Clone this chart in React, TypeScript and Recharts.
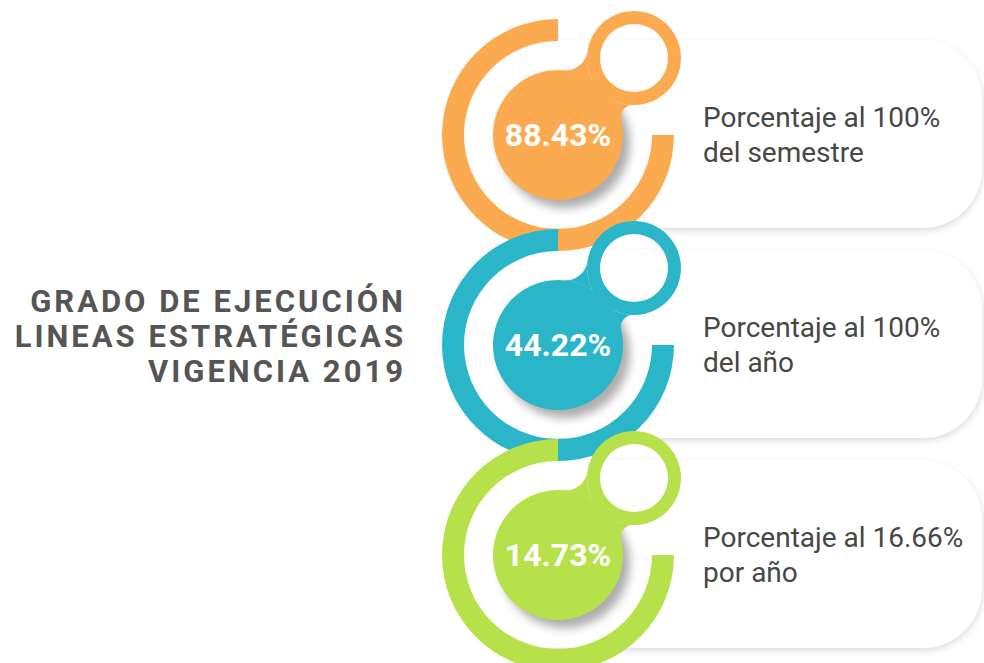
import React from 'react';
import { PieChart, Pie, Cell } from 'recharts';

const W = 984;
const H = 663;
const FONT = 'Roboto, "DejaVu Sans", sans-serif';

// ---- data ----
const indicators = ['Semestre', 'Año', 'Anual'];
const values = [88.43, 44.22, 14.73];
const valueLabels = ['88.43%', '44.22%', '14.73%'];
const descLine1 = ['Porcentaje al 100%', 'Porcentaje al 100%', 'Porcentaje al 16.66%'];
const descLine2 = ['del semestre', 'del año', 'por año'];
const colors = ['#FCAA4F', '#2AB6C8', '#B6E14A'];
const titleLines = ['GRADO DE EJECUCIÓN', 'LINEAS ESTRATÉGICAS', 'VIGENCIA 2019'];

// ---- layout ----
const CX = 558;
const CY0 = 135;
const STEP = 210;
const RING_IN = 94;
const RING_OUT = 116;
const CORE_R = 65;
const KNOB_DX = 76;
const KNOB_DY = -77;
const KNOB_IN = 34;
const KNOB_OUT = 47;

const centerY = (i: number) => CY0 + i * STEP;

function neckPath(c1x: number, c1y: number, r1: number, c2x: number, c2y: number, r2: number) {
  const dx = c2x - c1x;
  const dy = c2y - c1y;
  const d = Math.sqrt(dx * dx + dy * dy);
  const ux = dx / d, uy = dy / d;
  const nx = -uy, ny = ux;
  const bridge = (R: number, side: number) => {
    const a = r1 + R;
    const b = r2 + R;
    const x = (a * a - b * b + d * d) / (2 * d);
    const h = Math.sqrt(Math.max(a * a - x * x, 0));
    const px = c1x + ux * x + nx * h * side;
    const py = c1y + uy * x + ny * h * side;
    const t1 = [c1x + ((px - c1x) * r1) / a, c1y + ((py - c1y) * r1) / a];
    const t2 = [c2x + ((px - c2x) * r2) / b, c2y + ((py - c2y) * r2) / b];
    return { t1, t2, R };
  };
  const top = bridge(22, -1);
  const bot = bridge(12, 1);
  return (
    `M${top.t1[0]},${top.t1[1]} ` +
    `A${top.R},${top.R} 0 0 0 ${top.t2[0]},${top.t2[1]} ` +
    `A${r2},${r2} 0 0 0 ${bot.t2[0]},${bot.t2[1]} ` +
    `A${bot.R},${bot.R} 0 0 0 ${bot.t1[0]},${bot.t1[1]} ` +
    `A${r1},${r1} 0 0 0 ${top.t1[0]},${top.t1[1]} Z`
  );
}

function cardPath(cy: number) {
  const top = cy - 95;
  const bottom = cy + 93;
  const left = 480;
  const right = 982;
  const r = 60;
  return `M${left},${top} H${right - r} A${r},${r} 0 0 1 ${right},${top + r} V${bottom - r} A${r},${r} 0 0 1 ${right - r},${bottom} H${left} Z`;
}

const makeLabel = (i: number) => (props: any) => (
  <text
    x={props.cx}
    y={props.cy + 11}
    textAnchor="middle"
    fill="#fff"
    fontSize={32}
    fontWeight={700}
    fontFamily={FONT}
  >
    {valueLabels[i]}
  </text>
);

export default function App() {
  return (
    <div style={{ position: 'absolute', left: 0, top: 0, width: W, height: H, background: '#fff', overflow: 'hidden' }}>
      <svg width={W} height={H} style={{ position: 'absolute', left: 0, top: 0 }}>
        <defs>
          <filter id="cardShadow" x="-10%" y="-20%" width="130%" height="150%">
            <feDropShadow dx="1" dy="3" stdDeviation="3" floodColor="#000" floodOpacity="0.13" />
          </filter>
          <filter id="coreShadow" x="-50%" y="-50%" width="200%" height="200%">
            <feGaussianBlur stdDeviation="5" />
          </filter>
          <clipPath id="cardClip">
            <rect x={530} y={0} width={W - 530} height={H} />
          </clipPath>
        </defs>
        <g clipPath="url(#cardClip)">
          {indicators.map((k, i) => (
            <path key={'card' + k} d={cardPath(centerY(i))} fill="#fff" filter="url(#cardShadow)" />
          ))}
        </g>
        {titleLines.map((t, i) => (
          <text key={'t' + i} x={406} y={312 + i * 35} textAnchor="end" fontFamily={FONT} fontSize={31} fontWeight={700} fill="#555" letterSpacing={3}>
            {t}
          </text>
        ))}
        {indicators.map((k, i) => (
          <g key={'desc' + k} fontFamily={FONT} fontSize={28} fontWeight={400} fill="#474747">
            <text x={703} y={centerY(i) - 8}>{descLine1[i]}</text>
            <text x={703} y={centerY(i) + 27}>{descLine2[i]}</text>
          </g>
        ))}
        {indicators.map((k, i) => (
          <g key={'neck' + k}>
            <circle cx={CX + 7} cy={centerY(i) + 8} r={CORE_R} fill="#000" opacity={0.32} filter="url(#coreShadow)" />
            <path d={neckPath(CX, centerY(i), CORE_R, CX + KNOB_DX, centerY(i) + KNOB_DY, KNOB_OUT)} fill={colors[i]} />
          </g>
        ))}
      </svg>
      <PieChart width={W} height={H} margin={{ top: 0, right: 0, bottom: 0, left: 0 }} style={{ position: 'absolute', left: 0, top: 0 }}>
        {indicators.flatMap((k, i) => [
          <Pie
            key={'ring' + k}
            data={[{ name: k, value: values[i] }]}
            dataKey="value"
            cx={CX}
            cy={centerY(i)}
            innerRadius={RING_IN}
            outerRadius={RING_OUT}
            startAngle={90}
            endAngle={360}
            stroke="none"
            isAnimationActive={false}
          >
            <Cell fill={colors[i]} />
          </Pie>,
          <Pie
            key={'knob' + k}
            data={[{ name: k, value: values[i] }]}
            dataKey="value"
            cx={CX + KNOB_DX}
            cy={centerY(i) + KNOB_DY}
            innerRadius={KNOB_IN}
            outerRadius={KNOB_OUT}
            startAngle={0}
            endAngle={360}
            stroke="none"
            isAnimationActive={false}
          >
            <Cell fill={colors[i]} />
          </Pie>,
          <Pie
            key={'core' + k}
            data={[{ name: k, value: values[i] }]}
            dataKey="value"
            cx={CX}
            cy={centerY(i)}
            innerRadius={0}
            outerRadius={CORE_R}
            startAngle={0}
            endAngle={360}
            stroke="none"
            label={makeLabel(i)}
            labelLine={false}
            isAnimationActive={false}
          >
            <Cell fill={colors[i]} />
          </Pie>,
        ])}
      </PieChart>
    </div>
  );
}
